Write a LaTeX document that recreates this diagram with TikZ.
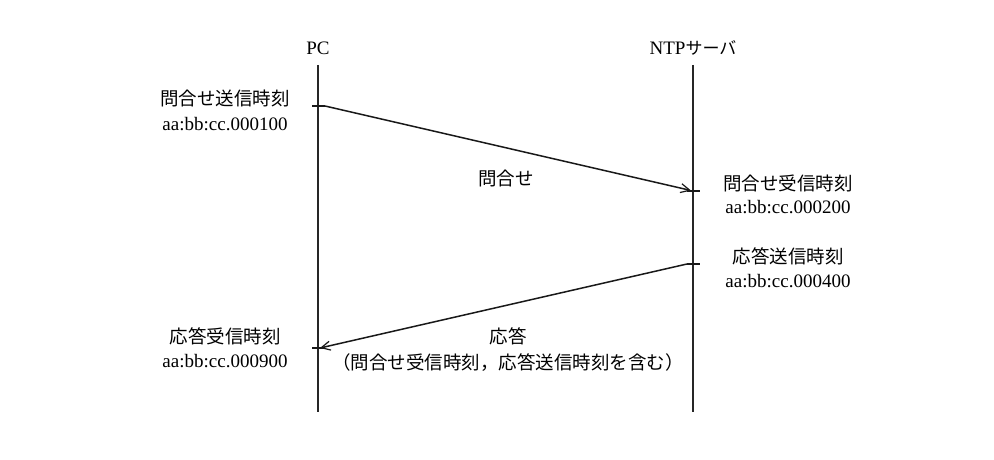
\documentclass[tikz,border=0pt]{standalone}
\usepackage{fontspec}
\setmainfont{Liberation Serif}
\newfontfamily\cjk{Noto Sans CJK JP}
\usetikzlibrary{arrows.meta}
\begin{document}
\begin{tikzpicture}[x=1pt,y=-1pt,
  lbl/.style={inner sep=0pt,font=\fontsize{18.5}{22}\selectfont},
  tim/.style={inner sep=0pt,font=\fontsize{19}{22}\selectfont},
  life/.style={line width=1.2pt,black!85},
  msg/.style={line width=1.5pt,black!90},
  tick/.style={line width=1.5pt,black!90},
  arr/.style={msg,-{Straight Barb[length=9pt,width=9pt,line width=1.2pt]}}]
\useasboundingbox (0,0) rectangle (994,460);
% lifelines
\node[tim] (pc) at (318,48) {PC};
\node[tim] (ntp) at (693,48) {NTP{\cjk\fontsize{17}{20}\selectfont サーバ}};
\coordinate (pcTop) at (318,65);
\coordinate (pcBot) at (318,412);
\coordinate (ntpTop) at (693,65);
\coordinate (ntpBot) at (693,412);
\draw[life] (pcTop) -- (pcBot);
\draw[life] (ntpTop) -- (ntpBot);
% query
\coordinate (q1a) at (312,106);
\coordinate (q1b) at (325,106);
\coordinate (q2a) at (687,191);
\coordinate (q2b) at (700,191);
\coordinate (q2t) at (691,190.5);
\draw[tick] (q1a) -- (q1b);
\draw[tick] (q2a) -- (q2b);
\draw[arr] (q1b) -- (q2t);
% response
\coordinate (r1a) at (687,264);
\coordinate (r1b) at (700,264);
\coordinate (r2a) at (312,348);
\coordinate (r2b) at (325,348);
\coordinate (r2t) at (320,348);
\draw[tick] (r1a) -- (r1b);
\draw[tick] (r2a) -- (r2b);
\draw[arr] (r1a) -- (r2t);
% labels
\node[lbl] (l1) at (225,98) {\cjk 問合せ送信時刻};
\node[tim] (l1t) at (225,124) {aa:bb:cc.000100};
\node[lbl] (l2) at (788,183) {\cjk 問合せ受信時刻};
\node[tim] (l2t) at (788,207) {aa:bb:cc.000200};
\node[lbl] (l3) at (788,256) {\cjk 応答送信時刻};
\node[tim] (l3t) at (788,281) {aa:bb:cc.000400};
\node[lbl] (l4) at (225,336) {\cjk 応答受信時刻};
\node[tim] (l4t) at (225,361) {aa:bb:cc.000900};
\node[lbl] (m1) at (506,178) {\cjk 問合せ};
\node[lbl] (m2) at (508,336) {\cjk 応答};
\node[lbl] (m2b) at (508,363) {\cjk （問合せ受信時刻，応答送信時刻を含む）};
\end{tikzpicture}
\end{document}
